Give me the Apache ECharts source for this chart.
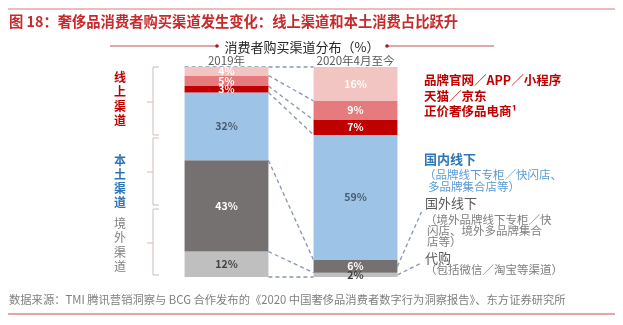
<!DOCTYPE html>
<html><head><meta charset="utf-8">
<script src="https://cdn.jsdelivr.net/npm/echarts@6/dist/echarts.min.js"></script>
<style>html,body{margin:0;padding:0;background:#fff}#c{width:623px;height:325px}</style>
</head><body><div id="c"></div>
<script>
var categories = ['2019年', '2020年4月至今'];
// stacked from bottom to top
var seriesNames = ['代购', '国外线下', '国内线下', '正价奢侈品电商', '天猫/京东', '品牌官网/APP/小程序'];
var daigou   = [12, 2];
var overseas = [43, 6];
var domestic = [32, 59];
var luxEcom  = [3, 7];
var tmallJd  = [5, 9];
var official = [4, 16];

var FONT = '"Noto Sans CJK SC", "Noto Sans", sans-serif';
var colors = ['#BFBFBF', '#767171', '#9DC3E6', '#C00000', '#E57B7D', '#F3C5C2'];
var labelColors = ['#404040', '#ffffff', '#4A5A6E', '#ffffff', '#ffffff', '#ffffff'];
var allData = [daigou, overseas, domestic, luxEcom, tmallJd, official];

function cum(idx) {
  var out = [0], s = 0;
  for (var i = 0; i < allData.length; i++) { s += allData[i][idx]; out.push(s); }
  return out;
}
var cumA = cum(0), cumB = cum(1);
var BAR_RATIO = 0.65;

var series = allData.map(function (d, i) {
  return {
    name: seriesNames[i], type: 'bar', stack: 'all', barWidth: '65%',
    data: d, itemStyle: { color: colors[i] },
    label: { show: true, position: 'inside', formatter: '{c}%', color: labelColors[i],
      fontSize: 10.5, fontWeight: 'bold', fontFamily: FONT },
    z: 3
  };
});

series.push({
  type: 'custom', coordinateSystem: 'cartesian2d', data: [[0, 0]], z: 2, silent: true,
  renderItem: function (params, api) {
    var bw = api.size([1, 0])[0] * BAR_RATIO;
    var children = [];
    var ls = { stroke: '#8497B0', lineWidth: 1.3, lineDash: [4, 3] };
    for (var k = 0; k < cumA.length; k++) {
      var p1 = api.coord([0, cumA[k]]);
      var p2 = api.coord([1, cumB[k]]);
      var x1 = (k === cumA.length - 1) ? p1[0] - bw / 2 : p1[0] + bw / 2;
      children.push({ type: 'line', shape: { x1: x1, y1: p1[1], x2: p2[0] - bw / 2, y2: p2[1] }, style: ls });
    }
    // leader lines from 2020 bar to right-side labels
    var m1 = api.coord([1, cumB[1] + overseas[1] / 2]);
    var m0 = api.coord([1, daigou[1] / 2]);
    var xr = m1[0] + bw / 2;
    children.push({ type: 'line', shape: { x1: xr, y1: m1[1], x2: xr + 24, y2: 212 }, style: ls });
    children.push({ type: 'line', shape: { x1: xr, y1: m0[1], x2: xr + 24, y2: 263 }, style: ls });
    return { type: 'group', children: children };
  }
});

function txt(text, x, y, color, size, weight, lh) {
  return { type: 'text', x: x, y: y, silent: true,
    style: { text: text, fill: color, font: (weight || 'normal') + ' ' + size + 'px ' + FONT,
      verticalAlign: lh ? 'top' : 'middle', align: 'left', lineHeight: lh || undefined } };
}
function bracket(y1, y2) {
  return { type: 'polyline', silent: true, shape: { points: [[159, y1], [153, y1], [153, y2], [159, y2]] },
    style: { stroke: '#CDBDB5', lineWidth: 1, fill: null } };
}
function tick(ym) {
  return { type: 'line', silent: true, shape: { x1: 147, y1: ym, x2: 153, y2: ym }, style: { stroke: '#CDBDB5', lineWidth: 1 } };
}

var graphics = [
  { type: 'line', silent: true, shape: { x1: 8, y1: 9, x2: 615, y2: 9 }, style: { stroke: '#D9787A', lineWidth: 1 } },
  txt('图 18：奢侈品消费者购买渠道发生变化：线上渠道和本土消费占比跃升', 9, 22, '#C8292B', 14.3, 'bold'),
  { type: 'line', silent: true, shape: { x1: 8, y1: 314, x2: 615, y2: 314 }, style: { stroke: '#E0A8A8', lineWidth: 2 } },
  txt('数据来源：TMI 腾讯营销洞察与 BCG 合作发布的《2020 中国奢侈品消费者数字行为洞察报告》、东方证券研究所', 9, 300, '#7F7F7F', 11.3),
  // subtitle
  { type: 'line', silent: true, shape: { x1: 110, y1: 46, x2: 216, y2: 46 }, style: { stroke: '#C0504D', lineWidth: 1 } },
  { type: 'line', silent: true, shape: { x1: 388, y1: 46, x2: 494, y2: 46 }, style: { stroke: '#C0504D', lineWidth: 1 } },
  { type: 'circle', silent: true, shape: { cx: 217, cy: 46, r: 1.8 }, style: { fill: '#A01C1C' } },
  { type: 'circle', silent: true, shape: { cx: 387, cy: 46, r: 1.8 }, style: { fill: '#A01C1C' } },
  { type: 'text', silent: true, x: 302, y: 47, style: { text: '消费者购买渠道分布（%）', fill: '#262626',
      font: 'normal 13px ' + FONT, align: 'center', verticalAlign: 'middle' } },
  // left group labels
  txt('线\n上\n渠\n道', 114, 70, '#C00000', 12, 'bold', 14.5),
  txt('本\n土\n渠\n道', 114, 153, '#2E75B6', 12, 'bold', 14),
  txt('境\n外\n渠\n道', 114, 216, '#7F7F7F', 12, 'normal', 14.5),
  bracket(67, 135), tick(102),
  bracket(138, 205), tick(172),
  bracket(209, 275), tick(243),
  // right labels
  txt('品牌官网／APP／小程序', 424, 80, '#C00000', 12.5, 'bold'),
  txt('天猫／京东', 424, 96, '#C00000', 12.5, 'bold'),
  txt('正价奢侈品电商¹', 424, 111, '#C00000', 12.5, 'bold'),
  txt('国内线下', 424, 159, '#2E75B6', 13, 'bold'),
  txt('（品牌线下专柜／快闪店、', 424, 175, '#5B9BD5', 11.5),
  txt('多品牌集合店等）', 428, 187, '#5B9BD5', 11.5),
  txt('国外线下', 425, 203, '#595959', 13),
  txt('（境外品牌线下专柜／快', 425, 220, '#7F7F7F', 11.5),
  txt('闪店、境外多品牌集合', 427, 231, '#7F7F7F', 11.5),
  txt('店等）', 427, 242, '#7F7F7F', 11.5),
  txt('代购', 425, 258, '#595959', 13),
  txt('（包括微信／淘宝等渠道）', 425, 270, '#7F7F7F', 11.5)
];

var chart = echarts.init(document.getElementById('c'), null, { renderer: 'canvas' });
chart.setOption({
  animation: false,
  backgroundColor: '#ffffff',
  grid: { left: 162, right: 203, top: 67, bottom: 48 },
  xAxis: { type: 'category', data: categories, position: 'top',
    axisLine: { show: false }, axisTick: { show: false },
    axisLabel: { color: '#595959', fontSize: 11.5, fontFamily: FONT, margin: 1 } },
  yAxis: { type: 'value', min: 0, max: 99, show: false },
  series: series,
  graphic: graphics
});
</script></body></html>
